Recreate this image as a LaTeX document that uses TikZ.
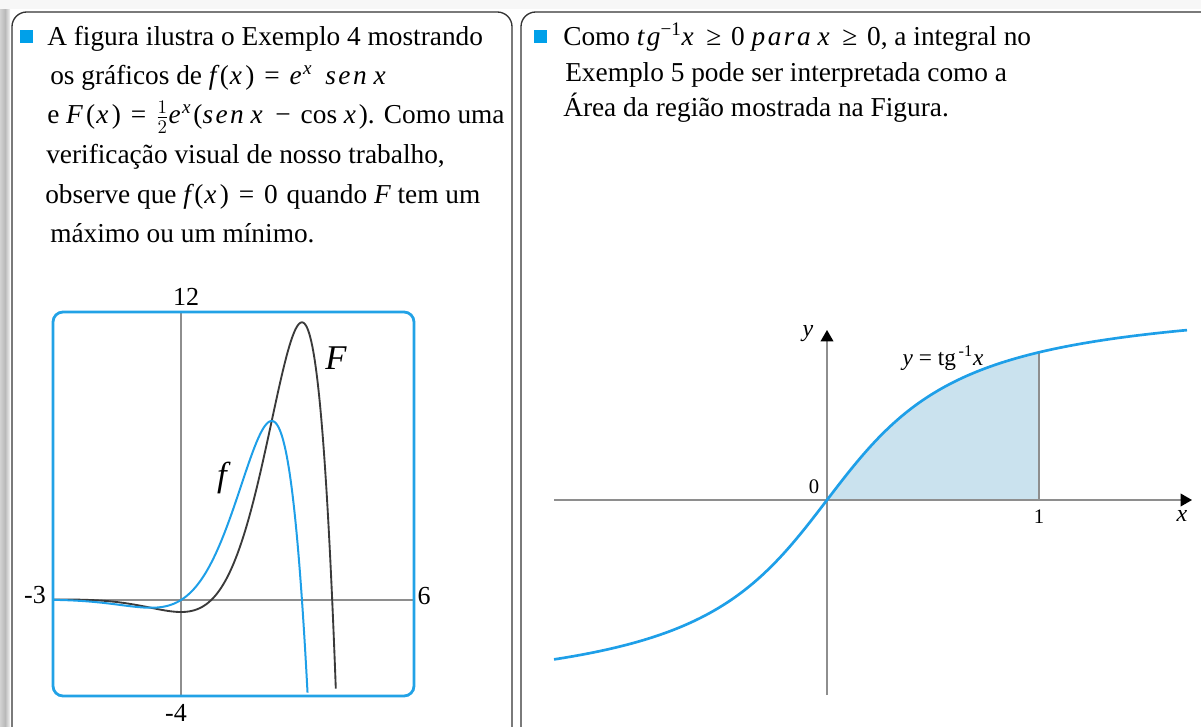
\documentclass[tikz,border=0pt]{standalone}
\usepackage{fontspec}
\setmainfont{Liberation Serif}
\newfontfamily\mfam{Liberation Serif}[LetterSpace=9]
\usetikzlibrary{arrows.meta}
\definecolor{bul}{HTML}{00A0E9}
\definecolor{cblue}{HTML}{1E9FE8}
\definecolor{boxblue}{HTML}{22A2E6}
\definecolor{areafill}{HTML}{CAE2EE}
\definecolor{axgray}{HTML}{8E8E8E}
\definecolor{curvek}{HTML}{3A3A3A}
\newcommand{\mi}[1]{{\mfam\itshape #1}}
\newcommand{\mrel}[1]{\hspace{0.36em}#1\hspace{0.36em}}
\newcommand{\fx}[1]{\mi{#1}\hspace{0.12em}(\hspace{0.04em}\mi{x}\hspace{0.12em})}
\newcommand{\ex}{\mi{e}\hspace{0.05em}\textsuperscript{\mi{x}}\hspace{0.08em}}
\newcommand{\vx}{\mi{x}\hspace{0.1em}}
\begin{document}
\begin{tikzpicture}[x=0.75pt,y=-0.75pt,
  panel/.style={draw=black!80,line width=1pt,rounded corners=11pt},
  bullet/.style={fill=bul},
  txt/.style={anchor=base west,inner sep=0pt,font=\fontsize{20.5}{24}\selectfont},
  lbl/.style={inner sep=0pt,font=\fontsize{19.5}{22}\selectfont},
  lblsm/.style={inner sep=0pt,font=\fontsize{15.5}{17}\selectfont},
  axisl/.style={draw=axgray,line width=1pt},
  arrowax/.style={draw=axgray,line width=1.1pt,-{Triangle[length=8.5pt,width=9.5pt,color=black]}},
  fcurve/.style={draw=cblue,line width=1.5pt},
  Fcurve/.style={draw=curvek,line width=1.4pt},
  atcurve/.style={draw=cblue,line width=2pt}]
\useasboundingbox (0,0) rectangle (1201,727);
% shadow strip
\shade[left color=gray!35,right color=gray!55] (0,8) rectangle (5,727);
\shade[left color=gray!55,right color=gray!10] (5,8) rectangle (10,727);
\fill[gray!6] (0,0) rectangle (1201,9);
% panels
\draw[panel] (12,738) -- (12,12) -- (512,12) -- (512,738);
\draw[panel] (1210,12) -- (521,12) -- (521,738);
% bullets
\fill[bullet] (20,30) rectangle (33,43);
\fill[bullet] (534,30) rectangle (547,43);
% left text
\node[txt] (l1) at (47,46) {A figura ilustra o Exemplo 4 mostrando};
\node[txt] (l2) at (50,85) {os gráficos de \fx{f}\mrel{=}\ex\hspace{0.15em} \mi{sen} \vx};
\node[txt] (l3) at (47,124) {e \fx{F}\mrel{=}$\frac{1}{2}$\ex(\mi{sen} \vx\mrel{−}cos \vx). Como uma};
\node[txt] (l4) at (46,164) {verificação visual de nosso trabalho,};
\node[txt] (l5) at (45,204) {observe que \fx{f}\mrel{=}0\hspace{0.08em} quando \mi{F} tem um};
\node[txt] (l6) at (50,243) {máximo ou um mínimo.};
% right text
\node[txt] (r1) at (563,46) {Como \mi{tg}\textsuperscript{−1}\vx\mrel{≥}0 \mi{para} \vx\mrel{≥}0, a integral no};
\node[txt] (r2) at (565,82) {Exemplo 5 pode ser interpretada como a};
\node[txt] (r3) at (563,117) {Área da região mostrada na Figura.};
% ---------- left graph ----------
\draw[axisl] (181,312) -- (181,696);
\draw[axisl] (53,600) -- (414,600);
\draw[Fcurve] plot[domain=-3.32:4.025,samples=300,smooth] ({181+38.5*\x},{600-12*exp(\x)*(sin(\x r)-cos(\x r))});
\draw[fcurve] plot[domain=-3.32:3.29,samples=300,smooth] ({181+38.5*\x},{600-24*exp(\x)*sin(\x r)});
\draw[draw=boxblue,line width=2.1pt,rounded corners=7.5pt] (53,312) rectangle (414,696);
\node[lbl] (t12) at (186,297) {12};
\node[lbl] (tm3) at (35,595) {-3};
\node[lbl] (t6) at (424,596) {6};
\node[lbl] (tm4) at (176,713) {-4};
\node[inner sep=0pt,font=\fontsize{26}{28}\selectfont\itshape] (lF) at (336,358) {F};
\node[inner sep=0pt,font=\fontsize{26}{28}\selectfont\itshape] (lf) at (222,478) {f};
% ---------- right graph ----------
\coordinate (O) at (827,500);
\coordinate (P1) at (1039,500);
\coordinate (Q1) at (1039,352.3);
\fill[areafill] (O) -- plot[domain=0:212,samples=80,smooth] ({827+\x},{500-130.7*rad(atan(\x/100))}) -- (P1) -- cycle;
\draw[axisl] (P1) -- (Q1);
\coordinate (xs) at (554,500);
\coordinate (xe) at (1192,500);
\coordinate (ys) at (827,695);
\coordinate (ye) at (827,330);
\draw[arrowax] (xs) -- (xe);
\draw[arrowax] (ys) -- (ye);
\draw[atcurve] plot[domain=-273:360,samples=200,smooth] ({827+\x},{500-130.7*rad(atan(\x/100))});
\node[inner sep=0pt,font=\fontsize{18}{20}\selectfont\itshape] (ly) at (808,334) {y};
\node[inner sep=0pt,font=\fontsize{18}{20}\selectfont\itshape] (lx) at (1182,516) {x};
\node[lblsm] (l0) at (814,487) {0};
\node[lblsm] (lone) at (1039,517) {1};
\node[inner sep=0pt,font=\fontsize{17.5}{20}\selectfont] (leq) at (943,358) {\textit{y} = tg\textsuperscript{\,-1}\textit{x}};
\end{tikzpicture}
\end{document}
